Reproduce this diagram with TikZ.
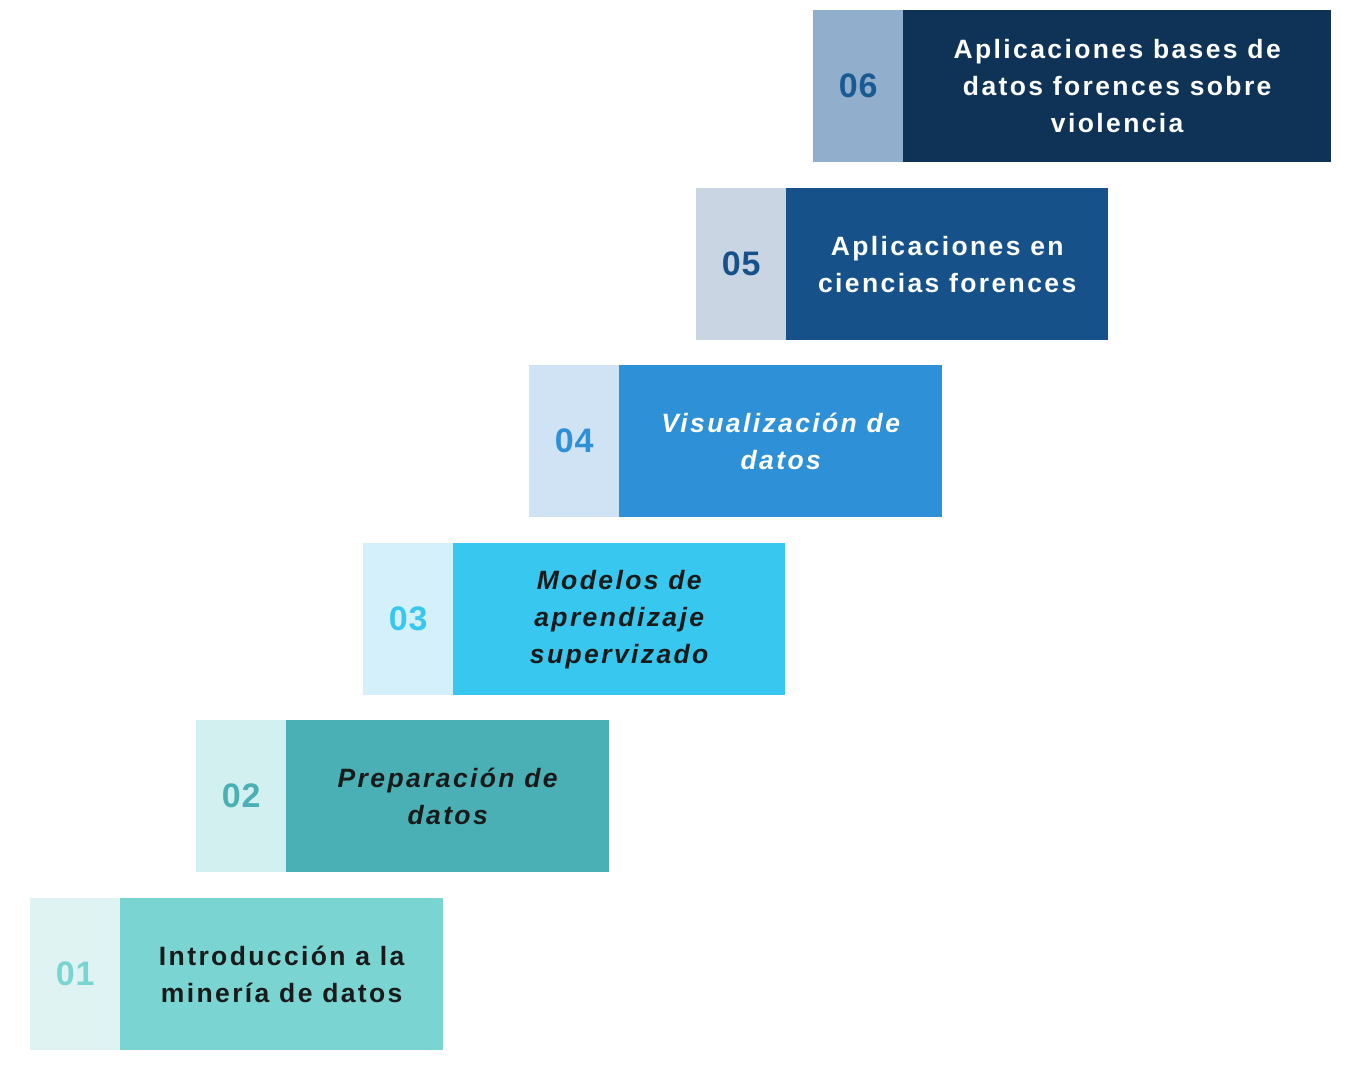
\documentclass[tikz,border=0pt]{standalone}
\usepackage{fontspec}
\setmainfont{Liberation Sans}
\newfontfamily\boxfont[LetterSpace=9]{Liberation Sans}
\newfontfamily\numfont[LetterSpace=2]{Liberation Sans}
\definecolor{dSix}{HTML}{0E3356}\definecolor{lSix}{HTML}{91AECC}\definecolor{nSix}{HTML}{1A5A92}
\definecolor{dFive}{HTML}{165289}\definecolor{lFive}{HTML}{C9D5E3}
\definecolor{dFour}{HTML}{2E90D6}\definecolor{lFour}{HTML}{D0E3F4}
\definecolor{dThree}{HTML}{38C8EF}\definecolor{lThree}{HTML}{D4F1FB}
\definecolor{dTwo}{HTML}{4AB0B5}\definecolor{lTwo}{HTML}{D2F0EF}
\definecolor{dOne}{HTML}{7AD4D1}\definecolor{lOne}{HTML}{E0F3F3}
\definecolor{txtdark}{HTML}{1A1A1A}
\begin{document}
\begin{tikzpicture}[x=1pt,y=-1pt,
  numbox/.style={anchor=north west,minimum width=90pt,minimum height=152pt,inner sep=0pt,
    font=\numfont\fontsize{34}{36}\selectfont\bfseries},
  labelbox/.style={anchor=north west,minimum height=152pt,inner sep=0pt,align=center,
    font=\boxfont\fontsize{26.5}{37}\selectfont\bfseries}]
\useasboundingbox (0,0) rectangle (1368,1071);
\fill[white] (0,0) rectangle (1368,1071);
% 06
\node[numbox,fill=lSix,text=nSix] (n6) at (813,10) {06};
\node[labelbox,fill=dSix,text=white,minimum width=428pt] (b6) at (903,10) {Aplicaciones bases de\\datos forences sobre\\violencia};
% 05
\node[numbox,fill=lFive,text=dFive] (n5) at (696,188) {05};
\node[labelbox,fill=dFive,text=white,minimum width=322pt] (b5) at (786,188) {Aplicaciones en\\ciencias forences};
% 04
\node[numbox,fill=lFour,text=dFour] (n4) at (529,365) {04};
\node[labelbox,fill=dFour,text=white,minimum width=323pt,font=\boxfont\fontsize{26.5}{37}\selectfont\bfseries\itshape] (b4) at (619,365) {Visualización de\\datos};
% 03
\node[numbox,fill=lThree,text=dThree] (n3) at (363,543) {03};
\node[labelbox,fill=dThree,text=txtdark,minimum width=332pt,font=\boxfont\fontsize{26.5}{37}\selectfont\bfseries\itshape] (b3) at (453,543) {Modelos de\\aprendizaje\\supervizado};
% 02
\node[numbox,fill=lTwo,text=dTwo] (n2) at (196,720) {02};
\node[labelbox,fill=dTwo,text=txtdark,minimum width=323pt,font=\boxfont\fontsize{26.5}{37}\selectfont\bfseries\itshape] (b2) at (286,720) {Preparación de\\datos};
% 01
\node[numbox,fill=lOne,text=dOne] (n1) at (30,898) {01};
\node[labelbox,fill=dOne,text=txtdark,minimum width=323pt] (b1) at (120,898) {Introducción a la\\minería de datos};
\end{tikzpicture}
\end{document}
